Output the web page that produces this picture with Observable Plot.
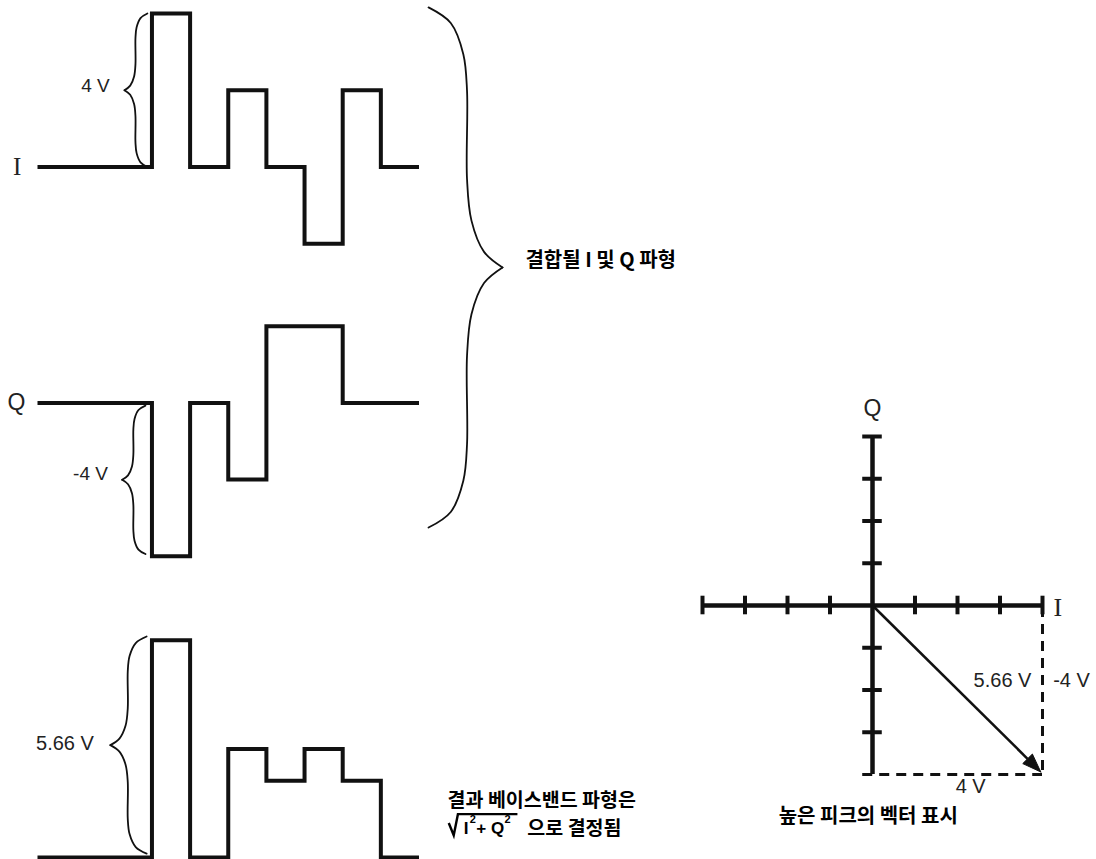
<!DOCTYPE html>
<html>
<head>
<meta charset="utf-8">
<script src="https://cdn.jsdelivr.net/npm/d3@7"></script>
<script src="https://cdn.jsdelivr.net/npm/@observablehq/plot@0.6"></script>
<style>
  body { margin: 0; background: #fff; }
  #fig { position: relative; width: 1096px; height: 859px; overflow: hidden; background: #fff; }
  #fig svg { position: absolute; overflow: visible; }
</style>
</head>
<body>
<div id="fig"></div>
<script>
// ---------- data ----------
const symbolEdges = [0, 3, 4, 5, 6, 7, 8, 9, 10];      // symbol time boundaries
const iValues     = [0, 4, 0, 2, 0, -2, 2, 0];          // I waveform (V)
const qValues     = [0, -4, 0, -2, 2, 2, 0, 0];         // Q waveform (V)
const magValues   = [0, 5.66, 0, 2.83, 2, 2.83, 2, 0];  // resulting baseband sqrt(I²+Q²) (V)
const vectorTicks = [-4, -3, -2, -1, 1, 2, 3, 4];       // vector diagram ticks
const peakI = 4;
const peakQ = -4;
const peakMag = 5.66;

const iLabel = "I";
const qLabel = "Q";
const combineLabel = "결합될 I 및 Q 파형";
const resultLine1 = "결과 베이스밴드 파형은";
const resultLine2 = "으로 결정됨";
const vectorCaption = "높은 피크의 벡터 표시";

// ---------- layout constants ----------
const Q_OFFSET = -6.15;
const R_OFFSET = -18;
const INK = "#111";
const TXT = "#222";
const SANS = "'Liberation Sans', Arial, sans-serif";
const SERIF = "'Liberation Serif', 'Times New Roman', serif";
const KR = "'Noto Sans CJK KR', sans-serif";

function steps(values, offset) {
  return symbolEdges.map((t, i) => ({t, v: values[Math.min(i, values.length - 1)] + offset}));
}

const braceShape = [[0,0],[0.3,0.03],[0.47,0.09],[0.52,0.16],[0.52,0.33],[0.58,0.41],[0.75,0.47],[1,0.5]];
function brace(xEnd, xTip, yTop, yBot, id) {
  const pts = [];
  for (const [u, s] of braceShape) pts.push({id: id + "a", x: xEnd + (xTip - xEnd) * u, y: yTop + (yBot - yTop) * s});
  for (const [u, s] of braceShape) pts.push({id: id + "b", x: xEnd + (xTip - xEnd) * u, y: yBot + (yTop - yBot) * s});
  return pts;
}

const braces = [
  ...brace(2.88, 2.28, 4, 0, "i"),
  ...brace(2.83, 2.22, Q_OFFSET - 0.07, Q_OFFSET - 3.94, "q"),
  ...brace(2.86, 1.91, R_OFFSET + peakMag + 0.1, R_OFFSET + 0.1, "r"),
  ...brace(10.25, 12.19, 4.16, -9.4, "big")
];

const waveStyle = {x: "t", y: "v", curve: "step-after", stroke: INK, strokeWidth: 4,
  strokeLinejoin: "miter", strokeMiterlimit: 4, strokeLinecap: "butt"};

const sansLeft = [
  {x: -0.555, y: Q_OFFSET, text: qLabel, size: 23},
  {x: 1.52, y: 2.12, text: "4 V", size: 19},
  {x: 1.39, y: Q_OFFSET - 1.85, text: "-4 V", size: 19},
  {x: 0.72, y: R_OFFSET + 2.97, text: peakMag + " V", size: 20}
];
const krTexts = [
  {x: 12.79, y: -2.44, text: combineLabel},
  {x: 10.75, y: R_OFFSET + 1.49, text: resultLine1},
  {x: 12.84, y: R_OFFSET + 0.76, text: resultLine2}
];
// formula √(I² + Q²)
const formulaMain = [
  {x: 11.17, y: R_OFFSET + 0.76, text: "I"},
  {x: 11.5, y: R_OFFSET + 0.76, text: "+ Q"}
];
const formulaSup = [
  {x: 11.33, y: R_OFFSET + 0.98, text: "2"},
  {x: 12.24, y: R_OFFSET + 0.98, text: "2"}
];
const radical = [
  {x: 10.78, y: R_OFFSET + 0.9},
  {x: 10.91, y: R_OFFSET + 0.58},
  {x: 11.02, y: R_OFFSET + 1.13},
  {x: 12.58, y: R_OFFSET + 1.13}
];

const p1 = Plot.plot({
  width: 680, height: 859,
  marginLeft: 37, marginRight: 261.5, marginTop: 13, marginBottom: 2,
  x: {domain: [0, 10], axis: null},
  y: {domain: [-18, 4], axis: null},
  style: {background: "transparent", overflow: "visible"},
  marks: [
    Plot.line(steps(iValues, 0), waveStyle),
    Plot.line(steps(qValues, Q_OFFSET), waveStyle),
    Plot.line(steps(magValues, R_OFFSET), waveStyle),
    Plot.line(braces, {x: "x", y: "y", z: "id", curve: "catmull-rom", stroke: INK, strokeWidth: 1.8}),
    Plot.line(radical, {x: "x", y: "y", stroke: "#000", strokeWidth: 2.4, strokeLinejoin: "miter", strokeMiterlimit: 10, strokeLinecap: "butt"}),
    Plot.text([{x: -0.53, y: 0, text: iLabel}], {x: "x", y: "y", text: "text", fontFamily: SERIF, fontSize: 25, fill: TXT}),
    Plot.text(sansLeft, {x: "x", y: "y", text: "text", fontFamily: SANS, fontSize: "size", fill: TXT}),
    Plot.text(krTexts.slice(0, 1), {x: "x", y: "y", text: "text", fontFamily: KR, fontWeight: "bold", fontSize: 20, textAnchor: "start", fill: "#000"}),
    Plot.text(krTexts.slice(1), {x: "x", y: "y", text: "text", fontFamily: KR, fontWeight: "bold", fontSize: 19.5, textAnchor: "start", fill: "#000"}),
    Plot.text(formulaMain, {x: "x", y: "y", text: "text", fontFamily: SANS, fontWeight: "bold", fontSize: 17, textAnchor: "start", fill: "#000"}),
    Plot.text(formulaSup, {x: "x", y: "y", text: "text", fontFamily: SANS, fontWeight: "bold", fontSize: 11, textAnchor: "start", fill: "#000"})
  ]
});

// vector diagram
const tipX = 3.96, tipY = -3.94, headL = 0.44, headW = 0.16;
const ux = peakI / Math.hypot(peakI, peakQ), uy = peakQ / Math.hypot(peakI, peakQ);
const bx = tipX - headL * ux, by = tipY - headL * uy;
const head = [
  {x: tipX, y: tipY},
  {x: bx - headW * uy, y: by + headW * ux},
  {x: bx + headW * uy, y: by - headW * ux},
  {x: tipX, y: tipY}
];

const p2 = Plot.plot({
  width: 416, height: 479,
  marginLeft: 22, marginRight: 54, marginTop: 56, marginBottom: 85,
  x: {domain: [-4, 4], axis: null},
  y: {domain: [-4, 4], axis: null},
  style: {background: "transparent", overflow: "visible"},
  marks: [
    Plot.ruleX([peakI], {y1: -0.05, y2: peakQ, stroke: INK, strokeWidth: 3, strokeDasharray: "10,7"}),
    Plot.ruleY([peakQ], {x1: -0.23, x2: peakI, stroke: INK, strokeWidth: 3, strokeDasharray: "10,7"}),
    Plot.ruleY([0], {x1: -4, x2: 4, stroke: INK, strokeWidth: 4.5}),
    Plot.ruleX([0], {y1: -4, y2: 4, stroke: INK, strokeWidth: 4.5}),
    Plot.ruleX(vectorTicks, {x: d => d, y1: -0.22, y2: 0.22, stroke: INK, strokeWidth: 4}),
    Plot.ruleY(vectorTicks.filter(d => d !== peakQ), {y: d => d, x1: -0.23, x2: 0.23, stroke: INK, strokeWidth: 4}),
    Plot.link([{x1: 0, y1: 0, x2: bx, y2: by}], {x1: "x1", y1: "y1", x2: "x2", y2: "y2", stroke: INK, strokeWidth: 2.5}),
    Plot.line(head, {x: "x", y: "y", fill: INK, stroke: INK, strokeWidth: 1, strokeLinejoin: "miter", strokeMiterlimit: 10}),
    Plot.text([{x: 0, y: 4.66, text: qLabel}], {x: "x", y: "y", text: "text", fontFamily: SANS, fontSize: 23, fill: TXT}),
    Plot.text([{x: 4.36, y: -0.06, text: iLabel}], {x: "x", y: "y", text: "text", fontFamily: SERIF, fontSize: 26, fill: TXT}),
    Plot.text([{x: 3.74, y: -1.78, text: peakMag + " V"}], {x: "x", y: "y", text: "text", fontFamily: SANS, fontSize: 20, textAnchor: "end", fill: TXT}),
    Plot.text([{x: 4.25, y: -1.78, text: peakQ + " V"}], {x: "x", y: "y", text: "text", fontFamily: SANS, fontSize: 20, textAnchor: "start", fill: TXT}),
    Plot.text([{x: 2.31, y: -4.29, text: peakI + " V"}], {x: "x", y: "y", text: "text", fontFamily: SANS, fontSize: 20, fill: TXT}),
    Plot.text([{x: -0.1, y: -5.0, text: vectorCaption}], {x: "x", y: "y", text: "text", fontFamily: KR, fontWeight: "bold", fontSize: 20, fill: "#000"})
  ]
});

const fig = document.getElementById("fig");
p1.style.left = "0px"; p1.style.top = "0px";
p2.style.left = "680px"; p2.style.top = "380px";
fig.append(p1, p2);
</script>
</body>
</html>
